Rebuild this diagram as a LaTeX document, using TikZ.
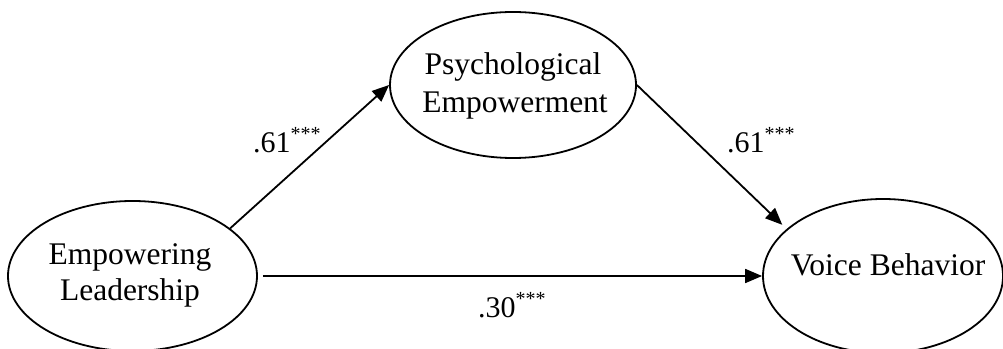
\documentclass[tikz,border=0pt]{standalone}
\usepackage{fontspec}
\setmainfont{Liberation Serif}
\usetikzlibrary{shapes.geometric,arrows.meta}
\tikzset{
  latent/.style={draw, ellipse, line width=1.8pt, inner sep=0pt},
  lbl/.style={font=\fontsize{31.5}{35}\selectfont, inner sep=0pt, anchor=base},
  coef/.style={font=\fontsize{30}{30}\selectfont, inner sep=0pt, anchor=base west},
  path/.style={line width=1.8pt, -{Triangle[length=17pt,width=14pt]}}
}
\newcommand{\stars}{\raisebox{12pt}{\fontsize{20}{20}\selectfont ***}}
\begin{document}
\begin{tikzpicture}[x=1pt,y=1pt]
\useasboundingbox (0,0) rectangle (1003,348);
\node[latent, minimum width=249pt, minimum height=150pt] (L) at (132.5,72) {};
\node[latent, minimum width=246pt, minimum height=146pt] (T) at (513,263) {};
\node[latent, minimum width=240pt, minimum height=154pt] (V) at (883,72) {};
\node[lbl] (Lt1) at (130,83) {Empowering};
\node[lbl] (Lt2) at (130,48) {Leadership};
\node[lbl] (Tt1) at (513,273) {Psychological};
\node[lbl] (Tt2) at (515,235) {Empowerment};
\node[lbl] (Vt) at (888,73) {Voice Behavior};
\draw[path] (L.26) -- (T.west);
\draw[path, shorten >=6pt] (T.east) -- (V.154);
\draw[path, shorten <=5pt] (L.east) -- (V.west);
\node[coef] (c1) at (253,195) {.61\stars};
\node[coef] (c2) at (727,195) {.61\stars};
\node[coef] (c3) at (478,31) {.30\stars};
\end{tikzpicture}
\end{document}
